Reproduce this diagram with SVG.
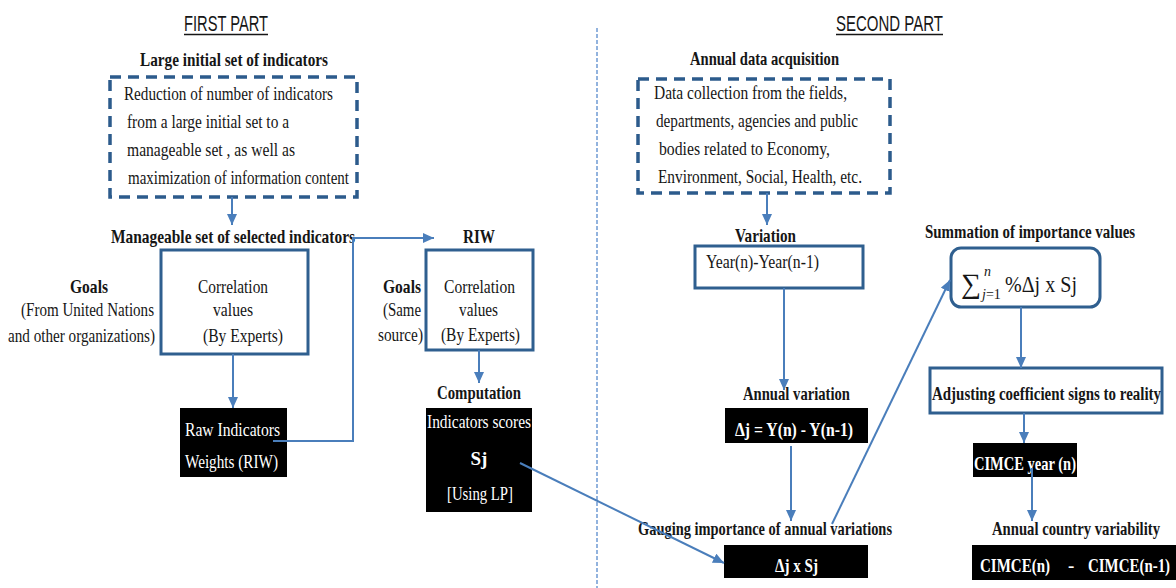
<svg xmlns="http://www.w3.org/2000/svg" width="1176" height="588" viewBox="0 0 1176 588">
  <style>
    .t { font-family: "Liberation Serif", "Times New Roman", serif; font-size: 19px; fill: #161616; }
    .b { font-weight: bold; }
    .w { fill: #ffffff; }
    .head { font-family: "Liberation Sans", Arial, sans-serif; font-size: 22px; fill: #161616; }
    .box { fill: #ffffff; stroke: #2f5f8f; stroke-width: 3; }
    .dash { fill: none; stroke: #2c5b8c; stroke-width: 3.5; stroke-dasharray: 11 7; }
    .blk { fill: #000000; }
    .conn { fill: none; stroke: #4a7ebb; stroke-width: 2; marker-end: url(#ah); }
    .rule { stroke: #161616; stroke-width: 1.5; }
  </style>
  <defs>
    <marker id="ah" markerUnits="userSpaceOnUse" markerWidth="12" markerHeight="10" refX="11" refY="5" orient="auto">
      <path d="M0,0 L11,5 L0,10 z" fill="#4a7ebb"/>
    </marker>
  </defs>

  <rect width="1176" height="588" fill="#ffffff"/>

  <!-- section headings and divider -->
  <g id="headings">
    <text class="head" x="184" y="31" textLength="84" lengthAdjust="spacingAndGlyphs">FIRST PART</text>
    <line class="rule" x1="184" y1="34.5" x2="268" y2="34.5"/>
    <text class="head" x="836" y="31" textLength="107" lengthAdjust="spacingAndGlyphs">SECOND PART</text>
    <line class="rule" x1="836" y1="34.5" x2="943" y2="34.5"/>
    <line x1="597" y1="28" x2="597" y2="588" stroke="#6f9bd3" stroke-width="1.5" stroke-dasharray="4 2"/>
  </g>

  <!-- FIRST PART -->
  <g id="initial-set">
    <text class="t b" x="140" y="66" textLength="188" lengthAdjust="spacingAndGlyphs">Large initial set of indicators</text>
    <rect class="dash" x="110" y="77" width="247" height="120"/>
    <text class="t" x="124" y="100" textLength="209" lengthAdjust="spacingAndGlyphs">Reduction of number of indicators</text>
    <text class="t" x="127" y="128" textLength="162" lengthAdjust="spacingAndGlyphs">from a large initial set to a</text>
    <text class="t" x="127" y="156" textLength="168" lengthAdjust="spacingAndGlyphs">manageable set , as well as</text>
    <text class="t" x="128" y="184" textLength="221" lengthAdjust="spacingAndGlyphs">maximization of information content</text>
  </g>

  <g id="manageable-set">
    <text class="t b" x="111" y="243" textLength="244" lengthAdjust="spacingAndGlyphs">Manageable set of selected indicators</text>
    <rect class="box" x="161" y="250" width="147" height="104"/>
    <text class="t" x="198" y="293" textLength="70" lengthAdjust="spacingAndGlyphs">Correlation</text>
    <text class="t" x="213" y="316" textLength="40" lengthAdjust="spacingAndGlyphs">values</text>
    <text class="t" x="203" y="342" textLength="80" lengthAdjust="spacingAndGlyphs">(By Experts)</text>
  </g>

  <g id="goals-un">
    <text class="t b" x="70" y="293" textLength="38" lengthAdjust="spacingAndGlyphs">Goals</text>
    <text class="t" x="21" y="316" textLength="133" lengthAdjust="spacingAndGlyphs">(From United Nations</text>
    <text class="t" x="8" y="342" textLength="147" lengthAdjust="spacingAndGlyphs">and other organizations)</text>
  </g>

  <g id="raw-weights">
    <rect class="blk" x="180" y="408" width="107" height="69"/>
    <text class="t w" x="185" y="436" textLength="95" lengthAdjust="spacingAndGlyphs">Raw Indicators</text>
    <text class="t w" x="185" y="468" textLength="93" lengthAdjust="spacingAndGlyphs">Weights (RIW)</text>
  </g>

  <g id="riw">
    <text class="t b" x="463" y="243" textLength="32" lengthAdjust="spacingAndGlyphs">RIW</text>
    <rect class="box" x="426" y="250" width="107" height="100"/>
    <text class="t" x="444" y="293" textLength="71" lengthAdjust="spacingAndGlyphs">Correlation</text>
    <text class="t" x="459" y="316" textLength="39" lengthAdjust="spacingAndGlyphs">values</text>
    <text class="t" x="441" y="341" textLength="79" lengthAdjust="spacingAndGlyphs">(By Experts)</text>
  </g>

  <g id="goals-same">
    <text class="t b" x="383" y="293" textLength="38" lengthAdjust="spacingAndGlyphs">Goals</text>
    <text class="t" x="383" y="316" textLength="38" lengthAdjust="spacingAndGlyphs">(Same</text>
    <text class="t" x="378" y="341" textLength="45" lengthAdjust="spacingAndGlyphs">source)</text>
  </g>

  <g id="computation">
    <text class="t b" x="437" y="399" textLength="84" lengthAdjust="spacingAndGlyphs">Computation</text>
    <rect class="blk" x="426" y="408" width="106" height="104"/>
    <text class="t w" x="427" y="428" textLength="104" lengthAdjust="spacingAndGlyphs">Indicators scores</text>
    <text class="t w b" x="479" y="465" text-anchor="middle">Sj</text>
    <text class="t w" x="447" y="500" textLength="66" lengthAdjust="spacingAndGlyphs">[Using LP]</text>
  </g>

  <!-- SECOND PART -->
  <g id="data-acquisition">
    <text class="t b" x="690" y="65" textLength="149" lengthAdjust="spacingAndGlyphs">Annual data acquisition</text>
    <rect class="dash" x="638" y="79" width="252" height="114"/>
    <text class="t" x="654" y="99" textLength="193" lengthAdjust="spacingAndGlyphs">Data collection from the fields,</text>
    <text class="t" x="656" y="127" textLength="202" lengthAdjust="spacingAndGlyphs">departments, agencies and public</text>
    <text class="t" x="659" y="155" textLength="171" lengthAdjust="spacingAndGlyphs">bodies related to Economy,</text>
    <text class="t" x="658" y="183" textLength="204" lengthAdjust="spacingAndGlyphs">Environment, Social, Health, etc.</text>
  </g>

  <g id="variation">
    <text class="t b" x="735" y="242" textLength="61" lengthAdjust="spacingAndGlyphs">Variation</text>
    <rect class="box" x="695" y="246" width="168" height="42"/>
    <text class="t" x="706" y="268" textLength="113" lengthAdjust="spacingAndGlyphs">Year(n)-Year(n-1)</text>
  </g>

  <g id="annual-variation">
    <text class="t b" x="743" y="400" textLength="107" lengthAdjust="spacingAndGlyphs">Annual variation</text>
    <rect class="blk" x="725" y="408" width="143" height="35"/>
    <text class="t w b" x="735" y="436" textLength="118" lengthAdjust="spacingAndGlyphs">Δj = Y(n) - Y(n-1)</text>
  </g>

  <g id="gauging">
    <text class="t b" x="638" y="535" textLength="254" lengthAdjust="spacingAndGlyphs">Gauging importance of annual variations</text>
    <rect class="blk" x="724" y="545" width="144" height="33"/>
    <text class="t w b" x="775" y="572" textLength="43" lengthAdjust="spacingAndGlyphs">Δj x Sj</text>
  </g>

  <!-- the narrow right-hand labels are condensed with a horizontal scale -->
  <g id="summation">
    <text class="t b" transform="translate(925,238) scale(0.74,1)" x="0" y="0" textLength="284" lengthAdjust="spacingAndGlyphs">Summation of importance values</text>
    <rect class="box" x="951" y="248" width="149" height="59" rx="10"/>
    <text font-family="Liberation Serif, serif" fill="#161616">
      <tspan x="961" y="293" font-size="28">∑</tspan>
      <tspan x="984" y="276" font-size="14" font-style="italic">n</tspan>
      <tspan x="982" y="299" font-size="14" font-style="italic">j</tspan><tspan font-size="14">=1</tspan>
      <tspan x="1005" y="292" font-size="23" textLength="72" lengthAdjust="spacingAndGlyphs">%Δj x Sj</tspan>
    </text>
  </g>

  <g id="adjusting">
    <rect class="box" x="930" y="368" width="232" height="45"/>
    <text class="t b" transform="translate(932,400) scale(0.66,1)" x="0" y="0" textLength="347" lengthAdjust="spacingAndGlyphs">Adjusting coefficient signs to reality</text>
  </g>

  <g id="cimce-year">
    <rect class="blk" x="973" y="443" width="104" height="34"/>
    <text class="t w b" x="974" y="470" textLength="102" lengthAdjust="spacingAndGlyphs">CIMCE year (n)</text>
  </g>

  <g id="country-variability">
    <text class="t b" transform="translate(992,535) scale(0.7,1)" x="0" y="0" textLength="240" lengthAdjust="spacingAndGlyphs">Annual country variability</text>
    <rect class="blk" x="972" y="545" width="204" height="35"/>
    <text class="t w b" x="980" y="572" textLength="70" lengthAdjust="spacingAndGlyphs">CIMCE(n)</text>
    <text class="t w b" x="1068" y="572">-</text>
    <text class="t w b" transform="translate(1088,572) scale(0.72,1)" x="0" y="0" textLength="114" lengthAdjust="spacingAndGlyphs">CIMCE(n-1)</text>
  </g>

  <!-- connectors -->
  <g id="connectors">
    <path class="conn" d="M232,197 V225"/>
    <path class="conn" d="M273,441 H353 V238 H434"/>
    <path class="conn" d="M233,354 V408"/>
    <path class="conn" d="M479,350 V383"/>
    <path class="conn" d="M520,463 L724,563"/>
    <path class="conn" d="M767,193 V225"/>
    <path class="conn" d="M784,288 V390"/>
    <path class="conn" d="M791,446 V521"/>
    <path class="conn" d="M832,524 L950,280"/>
    <path class="conn" d="M1021,307 V368"/>
    <path class="conn" d="M1024,413 V443"/>
    <path class="conn" d="M1032,468 V521"/>
  </g>
</svg>
